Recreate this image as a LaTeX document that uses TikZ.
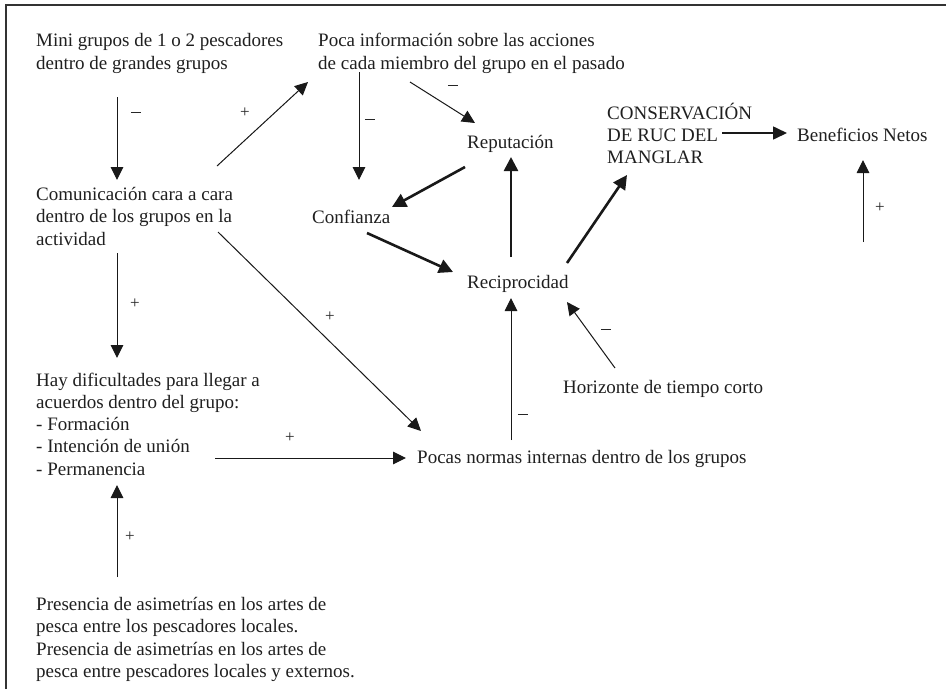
\documentclass[tikz,border=0pt]{standalone}
\usepackage{fontspec}
\setmainfont{Liberation Serif}
\usetikzlibrary{arrows.meta}
\begin{document}
\begin{tikzpicture}[x=1pt,y=-1pt,
  txt/.style={anchor=base west, inner sep=0pt, align=left, text=black!88, font=\fontsize{19}{22.8}\selectfont},
  lbl/.style={inner sep=0pt, text=black!85, font=\fontsize{17}{17}\selectfont},
  thinarr/.style={line width=1pt, black!90, -{Triangle[width=12.5pt,length=13pt]}},
  thickarr/.style={line width=2.6pt, black!90, -{Triangle[width=14pt,length=14pt]}},
  medarr/.style={line width=1.6pt, black!90, -{Triangle[width=13pt,length=14pt]}},
]
\newcommand{\mydash}{\rule[5pt]{10.5pt}{0.8pt}}
\useasboundingbox (0,0) rectangle (946,689);
\draw[line width=1.6pt, black!80] (6,689) -- (6,5) -- (946,5);

% nodes (multi-line nodes are placed at the baseline of their last line)
\node[txt] (mini) at (36,69.3) {Mini grupos de 1 o 2 pescadores\\dentro de grandes grupos};
\node[txt] (poca) at (318,69.3) {Poca información sobre las acciones\\de cada miembro del grupo en el pasado};
\node[txt] (com) at (36,245.6) {Comunicación cara a cara\\dentro de los grupos en la\\actividad};
\node[txt] (conf) at (312,223) {Confianza};
\node[txt] (rep) at (467,148) {Reputación};
\node[txt] (rec) at (467,288) {Reciprocidad};
\node[txt, font=\fontsize{19}{22}\selectfont] (cons) at (607,163) {CONSERVACIÓN\\DE RUC DEL\\MANGLAR};
\node[txt] (ben) at (797,141) {Beneficios Netos};
\node[txt] (hor) at (563,393) {Horizonte de tiempo corto};
\node[txt] (poc) at (417,463) {Pocas normas internas dentro de los grupos};
\node[txt, font=\fontsize{19}{22.3}\selectfont] (hay) at (36,475.2) {Hay dificultades para llegar a\\acuerdos dentro del grupo:\\- Formación\\- Intención de unión\\- Permanencia};
\node[txt, font=\fontsize{19}{22.6}\selectfont] (pres) at (36,677.8) {Presencia de asimetrías en los artes de\\pesca entre los pescadores locales.\\Presencia de asimetrías en los artes de\\pesca entre pescadores locales y externos.};
\coordinate (benin) at ([shift={(66,101)}]ben.base west);

% connectors
\draw[thinarr] ([shift={(81,27.7)}]mini.base west) -- ([shift={(81,-65.6)}]com.base west);
\draw[thinarr] ([shift={(181,-79.6)}]com.base west) -- ([shift={(-10,12.7)}]poca.base west);
\draw[thinarr] ([shift={(41,2.7)}]poca.base west) -- ([shift={(47,-43)}]conf.base west);
\draw[thinarr] ([shift={(92,12.7)}]poca.base west) -- ([shift={(8,-25)}]rep.base west);
\draw[thickarr] ([shift={(-2,19)}]rep.base west) -- ([shift={(80,-16)}]conf.base west);
\draw[thickarr] ([shift={(55,10)}]conf.base west) -- ([shift={(-14,-16)}]rec.base west);
\draw[thickarr] ([shift={(44,-31)}]rec.base west) -- ([shift={(44,9)}]rep.base west);
\draw[thickarr] ([shift={(100,-25)}]rec.base west) -- ([shift={(20,12)}]cons.base west);
\draw[medarr] ([shift={(115,-30)}]cons.base west) -- ([shift={(-10,-8)}]ben.base west);
\draw[thinarr] (benin) -- ([shift={(66,19)}]ben.base west);
\draw[thinarr] ([shift={(94,-23)}]poc.base west) -- ([shift={(44,10)}]rec.base west);
\draw[thinarr] ([shift={(52,-25)}]hor.base west) -- ([shift={(100,14)}]rec.base west);
\draw[thinarr] ([shift={(182,-13.6)}]com.base west) -- ([shift={(4,-32)}]poc.base west);
\draw[thinarr] ([shift={(179,-17.2)}]hay.base west) -- ([shift={(-11,-5)}]poc.base west);
\draw[thinarr] ([shift={(81,7.4)}]com.base west) -- ([shift={(81,-117.2)}]hay.base west);
\draw[thinarr] ([shift={(81,-100.8)}]pres.base west) -- ([shift={(81,9.8)}]hay.base west);

% labels
\node[lbl] (l1) at (136,115) {\mydash};
\node[lbl] (l2) at (245,113) {+};
\node[lbl] (l3) at (370,122) {\mydash};
\node[lbl] (l4) at (453,88) {\mydash};
\node[lbl] (l5) at (880,208) {+};
\node[lbl] (l6) at (523,417) {\mydash};
\node[lbl] (l7) at (606,332) {\mydash};
\node[lbl] (l8) at (330,317) {+};
\node[lbl] (l9) at (290,438) {+};
\node[lbl] (l10) at (135,304) {+};
\node[lbl] (l11) at (130,537) {+};
\end{tikzpicture}
\end{document}
